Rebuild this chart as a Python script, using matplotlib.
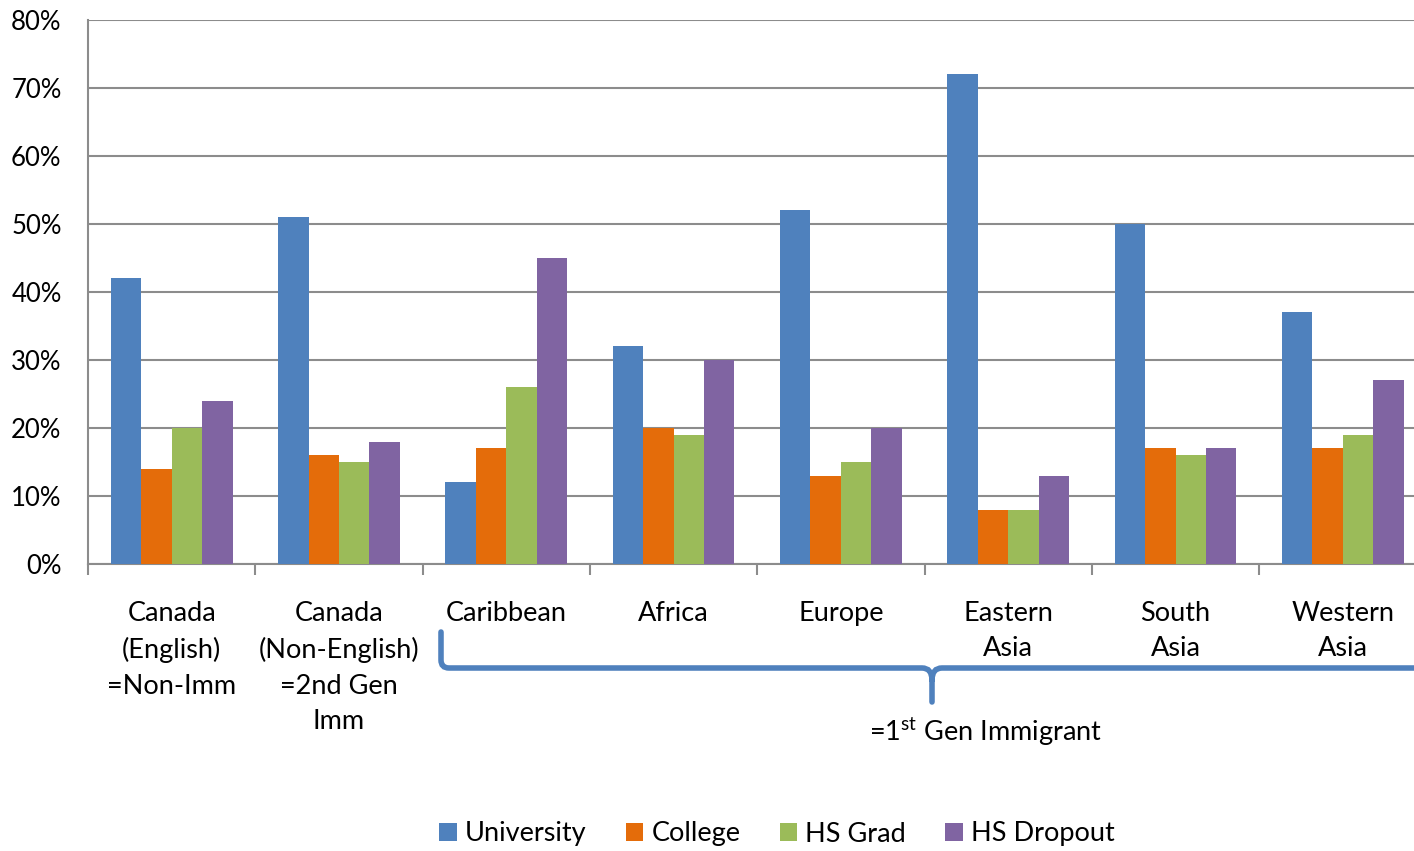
import matplotlib
matplotlib.use("Agg")
import matplotlib.pyplot as plt
import numpy as np
from matplotlib.path import Path
from matplotlib.patches import PathPatch

plt.rcParams['font.family'] = ['Lato', 'DejaVu Sans']
plt.rcParams['mathtext.fontset'] = 'custom'
plt.rcParams['mathtext.rm'] = 'Lato'

categories = ["Canada\n(English)\n=Non-Imm", "Canada\n(Non-English)\n=2nd Gen\nImm", "Caribbean",
              "Africa", "Europe", "Eastern\nAsia", "South\nAsia", "Western\nAsia"]
series_names = ["University", "College", "HS Grad", "HS Dropout"]
university = [42, 51, 12, 32, 52, 72, 50, 37]
college = [14, 16, 17, 20, 13, 8, 17, 17]
hs_grad = [20, 15, 26, 19, 15, 8, 16, 19]
hs_dropout = [24, 18, 45, 30, 20, 13, 17, 27]
colors = ["#4F81BD", "#E46C0A", "#9BBB59", "#8064A2"]
yticks = [0, 10, 20, 30, 40, 50, 60, 70, 80]

W, H = 1414, 851
fig = plt.figure(figsize=(W/100, H/100), dpi=100)
left, right, top, bottom = 88, 1426.5, 20, 564
ax = fig.add_axes([left/W, 1-bottom/H, (right-left)/W, (bottom-top)/H])

x = np.arange(len(categories))
bw = 0.182
data = [university, college, hs_grad, hs_dropout]
for i, (vals, c, name) in enumerate(zip(data, colors, series_names)):
    ax.bar(x + (i-1.5)*bw, vals, width=bw, color=c, label=name, zorder=3, edgecolor='none')

ax.set_xlim(-0.5, len(categories)-0.5)
ax.set_ylim(0, 80)
ax.set_yticks(yticks)
ax.set_yticklabels([f"{v}%" for v in yticks], fontsize=18.5)
ax.yaxis.grid(True, color='#8c8c8c', linewidth=1.5, zorder=0)
ax.tick_params(axis='y', length=0, pad=19)
for s in ['top', 'right']:
    ax.spines[s].set_visible(False)
for s in ['left', 'bottom']:
    ax.spines[s].set_color('#8c8c8c')
    ax.spines[s].set_linewidth(1.5)

ax.set_xticks(np.arange(-0.5, len(categories)+0.5, 1), minor=False)
ax.set_xticklabels([])
ax.tick_params(axis='x', length=8, width=1.5, color='#8c8c8c', direction='out')
for xi, lab in zip(x, categories):
    ax.text(xi, -5.4, lab, ha='center', va='top', fontsize=19.5, linespacing=1.53,
            transform=ax.transData, clip_on=False)

# brace
def fx(px): return px / W
def fy(py): return 1 - py / H
verts = [(fx(441), fy(632)), (fx(441), fy(660)), (fx(441), fy(668)), (fx(449), fy(668)),
         (fx(922), fy(668)), (fx(932), fy(668)), (fx(932), fy(680)),
         (fx(932), fy(702)),
         (fx(932), fy(680)), (fx(932), fy(668)), (fx(942), fy(668)),
         (fx(1420), fy(668))]
codes = [Path.MOVETO, Path.LINETO, Path.CURVE3, Path.CURVE3,
         Path.LINETO, Path.CURVE3, Path.CURVE3,
         Path.LINETO,
         Path.MOVETO, Path.CURVE3, Path.CURVE3,
         Path.LINETO]
fig.patches.append(PathPatch(Path(verts, codes), transform=fig.transFigure,
                             facecolor='none', edgecolor='#4F81BD', linewidth=4,
                             capstyle='round'))

fig.text(986/W, 1-732/H, r"=1$^{\mathrm{st}}$ Gen Immigrant", ha='center', va='center', fontsize=19.5)

fig.legend(loc='center', bbox_to_anchor=(777/W, 1-834/H), ncol=4, frameon=False,
           fontsize=19.5, handlelength=0.65, handleheight=0.65, handletextpad=0.3,
           columnspacing=1.45)

fig.savefig("out.png", dpi=100)
